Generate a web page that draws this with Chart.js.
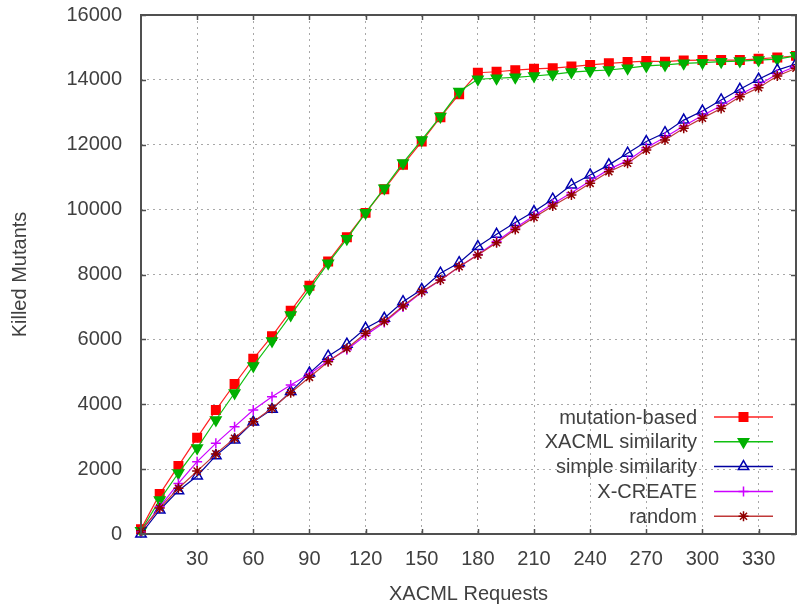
<!DOCTYPE html>
<html>
<head>
<meta charset="utf-8">
<title>Killed Mutants vs XACML Requests</title>
<script src="https://cdn.jsdelivr.net/npm/chart.js@4.4.1/dist/chart.umd.min.js"></script>
<style>
  html, body { margin: 0; padding: 0; background: #fff; }
  #wrap { width: 797px; height: 613px; position: relative; }
</style>
</head>
<body>
<div id="wrap"><canvas id="chart"></canvas></div>
<script>
// x positions (number of XACML requests)
const requests = [0, 10, 20, 30, 40, 50, 60, 70, 80, 90, 100, 110, 120, 130, 140, 150, 160, 170,
  180, 190, 200, 210, 220, 230, 240, 250, 260, 270, 280, 290, 300, 310, 320, 330, 340, 350];

const mutationBased = [150, 1230, 2100, 2970, 3820, 4625, 5400, 6100, 6880, 7650, 8400, 9150, 9900, 10630, 11380, 12100, 12850, 13560,
  14220, 14250, 14300, 14340, 14360, 14410, 14460, 14510, 14550, 14580, 14560, 14600, 14610, 14610, 14610, 14650, 14690, 14740];
const xacmlSimilarity = [100, 1050, 1880, 2650, 3515, 4347, 5180, 5950, 6750, 7550, 8350, 9100, 9900, 10660, 11440, 12150, 12870, 13640,
  14020, 14050, 14080, 14120, 14170, 14240, 14280, 14305, 14360, 14430, 14460, 14510, 14530, 14560, 14580, 14610, 14640, 14740];
const simpleSimilarity = [0, 740, 1335, 1790, 2415, 2900, 3450, 3845, 4390, 4960, 5480, 5850, 6340, 6650, 7160, 7540, 8040, 8365,
  8860, 9240, 9600, 9940, 10320, 10760, 11070, 11380, 11740, 12100, 12370, 12760, 13040, 13380, 13710, 14020, 14300, 14490];
const xCreate = [80, 840, 1560, 2230, 2795, 3310, 3820, 4230, 4595, 4935, 5340, 5680, 6130, 6520, 7000, 7450, 7820, 8240,
  8620, 9020, 9430, 9810, 10170, 10520, 10880, 11240, 11510, 11910, 12230, 12580, 12900, 13200, 13550, 13840, 14180, 14420];
const randomSel = [100, 800, 1410, 1940, 2470, 2950, 3460, 3875, 4356, 4830, 5310, 5720, 6190, 6550, 7030, 7470, 7830, 8240,
  8600, 8980, 9390, 9760, 10110, 10450, 10810, 11170, 11430, 11840, 12150, 12510, 12820, 13120, 13480, 13760, 14120, 14360];

const xTicks = [30, 60, 90, 120, 150, 180, 210, 240, 270, 300, 330];
const yTicks = [0, 2000, 4000, 6000, 8000, 10000, 12000, 14000, 16000];

const FONT = 'Liberation Sans, Arial, sans-serif';
const TEXT = '#404040';

function pts(values) { return values.map((v, i) => ({ x: requests[i], y: v })); }

const series = [
  { label: 'mutation-based', data: mutationBased, line: '#ff2020', point: '#ff0000', fill: '#ff0000', style: 'rect', radius: 6, rot: 0 },
  { label: 'XACML similarity', data: xacmlSimilarity, line: '#10c010', point: '#00b000', fill: '#00b000', style: 'triangle', radius: 6, rot: 180 },
  { label: 'simple similarity', data: simpleSimilarity, line: '#0000a0', point: '#0000b0', fill: 'rgba(255,255,255,0)', style: 'triangle', radius: 6, rot: 0 },
  { label: 'X-CREATE', data: xCreate, line: '#cc00ff', point: '#cc00ff', fill: '#cc00ff', style: 'cross', radius: 5, rot: 0 },
  { label: 'random', data: randomSel, line: '#c03838', point: '#900000', fill: '#900000', style: 'star', radius: 5, rot: 0 }
];

// gnuplot-like frame with inward tick marks on all four sides
const framePlugin = {
  id: 'frame',
  afterDatasetsDraw(chart) {
    const { ctx, chartArea: a, scales } = chart;
    ctx.save();
    ctx.strokeStyle = '#505050';
    ctx.lineWidth = 2;
    ctx.strokeRect(a.left, a.top, a.right - a.left, a.bottom - a.top);
    ctx.lineWidth = 1.5;
    ctx.beginPath();
    xTicks.forEach(v => {
      const x = Math.round(scales.x.getPixelForValue(v)) + 0.5;
      ctx.moveTo(x, a.bottom); ctx.lineTo(x, a.bottom - 5);
      ctx.moveTo(x, a.top); ctx.lineTo(x, a.top + 5);
    });
    yTicks.forEach(v => {
      const y = Math.round(scales.y.getPixelForValue(v)) + 0.5;
      ctx.moveTo(a.left, y); ctx.lineTo(a.left + 5, y);
      ctx.moveTo(a.right, y); ctx.lineTo(a.right - 5, y);
    });
    ctx.stroke();
    ctx.restore();
  }
};

// legend: text right-aligned, then a line sample with the marker in its middle
const keyPlugin = {
  id: 'key',
  afterDraw(chart) {
    const { ctx } = chart;
    const textRight = 697, lineX1 = 714, lineX2 = 773, y0 = 417, step = 24.8;
    ctx.save();
    ctx.font = '20px ' + FONT;
    ctx.textAlign = 'right';
    ctx.textBaseline = 'middle';
    series.forEach((s, i) => {
      const y = y0 + i * step;
      ctx.fillStyle = TEXT;
      ctx.fillText(s.label, textRight, y + 1);
      ctx.strokeStyle = s.line;
      ctx.lineWidth = 1.5;
      ctx.beginPath();
      ctx.moveTo(lineX1, y); ctx.lineTo(lineX2, y);
      ctx.stroke();
      ctx.fillStyle = s.fill;
      ctx.strokeStyle = s.point;
      ctx.lineWidth = 1.5;
      Chart.helpers.drawPoint(ctx, { pointStyle: s.style, radius: s.radius, rotation: s.rot, borderWidth: 1.5 }, (lineX1 + lineX2) / 2, y);
    });
    ctx.restore();
  }
};

new Chart(document.getElementById('chart'), {
  type: 'line',
  data: {
    datasets: series.map((s, i) => ({
      label: s.label,
      data: pts(s.data),
      borderColor: s.line,
      borderWidth: 1.2,
      backgroundColor: s.fill,
      pointStyle: s.style,
      pointRadius: s.radius,
      pointRotation: s.rot,
      pointBorderColor: s.point,
      pointBackgroundColor: s.fill,
      pointBorderWidth: 1.5,
      tension: 0,
      fill: false,
      clip: false,
      order: series.length - i
    }))
  },
  options: {
    responsive: true,
    maintainAspectRatio: false,
    animation: false,
    layout: { autoPadding: false, padding: { left: 0, top: 15, right: 1, bottom: 0 } },
    plugins: { legend: { display: false }, tooltip: { enabled: false } },
    scales: {
      x: {
        type: 'linear',
        min: 0,
        max: 350,
        afterBuildTicks: s => { s.ticks = xTicks.map(v => ({ value: v })); },
        afterFit: s => { s.height = 79; s.paddingRight = 0; s.paddingLeft = 0; },
        ticks: { color: TEXT, font: { family: FONT, size: 20 }, padding: 13, maxRotation: 0, autoSkip: false },
        grid: { color: '#a8a8a8', lineWidth: 1, drawTicks: false },
        border: { display: false, dash: [2, 4] },
        title: { display: true, text: 'XACML Requests', color: TEXT, font: { family: FONT, size: 20 }, padding: { top: 0, bottom: 7 } }
      },
      y: {
        type: 'linear',
        min: 0,
        max: 16000,
        afterBuildTicks: s => { s.ticks = yTicks.map(v => ({ value: v })); },
        afterFit: s => { s.width = 141; s.paddingTop = 0; s.paddingBottom = 0; },
        ticks: { color: TEXT, font: { family: FONT, size: 20 }, padding: 19, callback: v => String(v) },
        grid: { color: '#a8a8a8', lineWidth: 1, drawTicks: false },
        border: { display: false, dash: [2, 4] },
        title: { display: true, text: 'Killed Mutants', color: TEXT, font: { family: FONT, size: 20 }, padding: { top: 8, bottom: 0 } }
      }
    }
  },
  plugins: [framePlugin, keyPlugin]
});
</script>
</body>
</html>
